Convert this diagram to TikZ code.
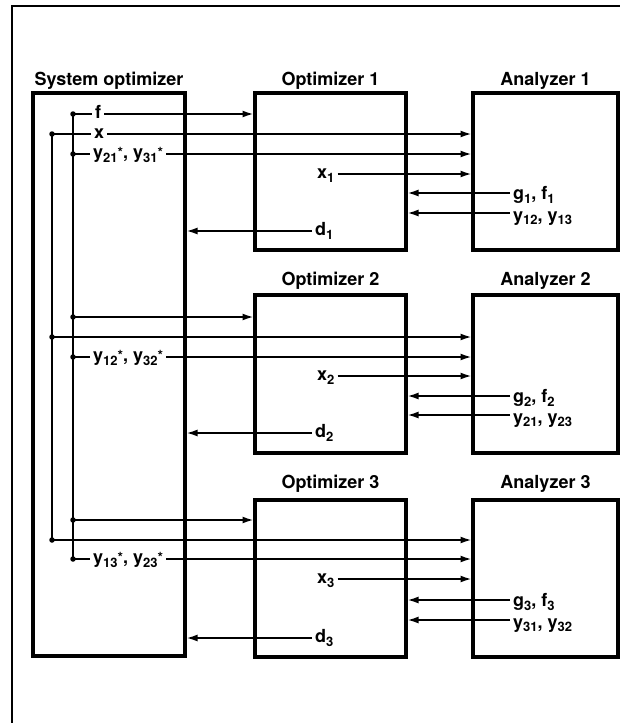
\documentclass[tikz,border=0pt]{standalone}
\usepackage{fontspec}
\setmainfont{TeX Gyre Heros}
\usetikzlibrary{arrows.meta}
\newcommand\lsub[1]{\raisebox{-3.5pt}{\fontsize{13}{13}\selectfont #1}}
\newcommand\lst{\raisebox{1pt}{\fontsize{14}{14}\selectfont *}}
\begin{document}
\begin{tikzpicture}[x=1pt,y=-1pt,font=\fontsize{18}{20}\selectfont\bfseries,
  blk/.style={draw,line width=3.5pt,inner sep=0pt,outer sep=0pt},
  ttl/.style={anchor=base,inner sep=0pt},
  lbl/.style={anchor=west,inner xsep=3pt,inner ysep=0pt,text height=9.5pt,text depth=0pt},
  lblg/.style={anchor=west,inner xsep=3pt,inner ysep=0pt,text height=13pt,text depth=0pt},
  lblh/.style={anchor=west,inner xsep=3pt,inner ysep=0pt,text height=16pt,text depth=0pt},
  ln/.style={line width=1.8pt},
  arr/.style={ln,-{Latex[length=11pt,width=7pt]},shorten >=1.5pt},
  dot/.style={circle,fill,inner sep=0pt,minimum size=5.5pt}]
\useasboundingbox (0,0) rectangle (620,723);
\fill[white] (0,0) rectangle (620,723);
% frame
\draw[line width=2pt] (12,723) -- (12,6) -- (620,6);
% boxes
\node[blk,minimum width=152pt,minimum height=563pt] (sys) at (109,374.5) {};
\node[blk,minimum width=151pt,minimum height=157pt] (o1) at (330.5,171.5) {};
\node[blk,minimum width=151pt,minimum height=158pt] (o2) at (330.5,374) {};
\node[blk,minimum width=151pt,minimum height=157pt] (o3) at (330.5,578.5) {};
\node[blk,minimum width=145pt,minimum height=157pt] (a1) at (545.5,171.5) {};
\node[blk,minimum width=145pt,minimum height=158pt] (a2) at (545.5,374) {};
\node[blk,minimum width=145pt,minimum height=157pt] (a3) at (545.5,578.5) {};
% titles
\node[ttl] (t0) at (109,85) {System optimizer};
\node[ttl] (t1) at (330.5,85) {Optimizer 1};
\node[ttl] (t2) at (545.5,85) {Analyzer 1};
\node[ttl] (t3) at (330.5,285) {Optimizer 2};
\node[ttl] (t4) at (545.5,285) {Analyzer 2};
\node[ttl] (t5) at (330.5,488) {Optimizer 3};
\node[ttl] (t6) at (545.5,488) {Analyzer 3};
% bus dots
\node[dot] (p1f) at (73,114) {};
\node[dot] (p1x) at (52,134) {};
\node[dot] (p1y) at (73,154) {};
\node[dot] (p2f) at (73,317) {};
\node[dot] (p2x) at (52,337) {};
\node[dot] (p2y) at (73,357) {};
\node[dot] (p3f) at (73,520) {};
\node[dot] (p3x) at (52,540) {};
\node[dot] (p3y) at (73,559) {};
% buses
\draw[ln] (p1f.center) -- (p3y.center);
\draw[ln] (p1x.center) -- (p3x.center);
% block 1
\node[lbl] (l1f) at (92,114) {f};
\node[lbl] (l1x) at (91,134) {x};
\node[lbl] (l1y) at (90,154) {y\lsub{21}\lst, y\lsub{31}\lst};
\node[lbl] (l1i) at (314,174) {x\lsub{1}};
\node[lblg] (l1g) at (510,193) {g\lsub{1}, f\lsub{1}};
\node[lblh] (l1h) at (510,213) {y\lsub{12}, y\lsub{13}};
\node[lbl] (l1d) at (312,231) {d\lsub{1}};
\draw[ln] (p1f.center) -- (l1f.west);
\draw[arr] (l1f.east) -- (l1f.east -| o1.west);
\draw[ln] (p1x.center) -- (l1x.west);
\draw[arr] (l1x.east) -- (l1x.east -| a1.west);
\draw[ln] (p1y.center) -- (l1y.west);
\draw[arr] (l1y.east) -- (l1y.east -| a1.west);
\draw[arr] (l1i.east) -- (l1i.east -| a1.west);
\draw[arr] (l1g.west) -- (l1g.west -| o1.east);
\draw[arr] (l1h.west) -- (l1h.west -| o1.east);
\draw[arr] (l1d.west) -- (l1d.west -| sys.east);
% block 2
\node[lbl] (l2y) at (90,357) {y\lsub{12}\lst, y\lsub{32}\lst};
\node[lbl] (l2i) at (314,376) {x\lsub{2}};
\node[lblg] (l2g) at (510,396) {g\lsub{2}, f\lsub{2}};
\node[lblh] (l2h) at (510,415) {y\lsub{21}, y\lsub{23}};
\node[lbl] (l2d) at (312,433) {d\lsub{2}};
\draw[arr] (p2f.center) -- (p2f.center -| o2.west);
\draw[arr] (p2x.center) -- (p2x.center -| a2.west);
\draw[ln] (p2y.center) -- (l2y.west);
\draw[arr] (l2y.east) -- (l2y.east -| a2.west);
\draw[arr] (l2i.east) -- (l2i.east -| a2.west);
\draw[arr] (l2g.west) -- (l2g.west -| o2.east);
\draw[arr] (l2h.west) -- (l2h.west -| o2.east);
\draw[arr] (l2d.west) -- (l2d.west -| sys.east);
% block 3
\node[lbl] (l3y) at (90,559) {y\lsub{13}\lst, y\lsub{23}\lst};
\node[lbl] (l3i) at (314,579) {x\lsub{3}};
\node[lblg] (l3g) at (510,600) {g\lsub{3}, f\lsub{3}};
\node[lblh] (l3h) at (510,620) {y\lsub{31}, y\lsub{32}};
\node[lbl] (l3d) at (312,638) {d\lsub{3}};
\draw[arr] (p3f.center) -- (p3f.center -| o3.west);
\draw[arr] (p3x.center) -- (p3x.center -| a3.west);
\draw[ln] (p3y.center) -- (l3y.west);
\draw[arr] (l3y.east) -- (l3y.east -| a3.west);
\draw[arr] (l3i.east) -- (l3i.east -| a3.west);
\draw[arr] (l3g.west) -- (l3g.west -| o3.east);
\draw[arr] (l3h.west) -- (l3h.west -| o3.east);
\draw[arr] (l3d.west) -- (l3d.west -| sys.east);
\end{tikzpicture}
\end{document}
